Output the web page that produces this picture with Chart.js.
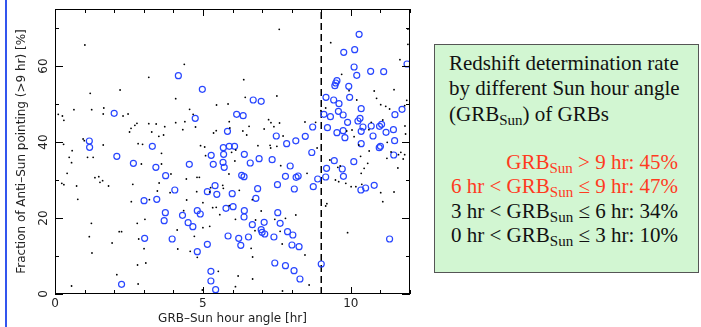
<!DOCTYPE html>
<html>
<head>
<meta charset="utf-8">
<script src="https://cdn.jsdelivr.net/npm/chart.js@4"></script>
<style>
  html, body { margin: 0; padding: 0; background: #fff; }
  #wrap { position: relative; width: 701px; height: 327px; overflow: hidden; }
  #chart { position: absolute; left: 0; top: 0; }
  .edge { position: absolute; left: 5px; top: 0; width: 2px; height: 327px; background: #3355ee; }
  .note {
    position: absolute; left: 434px; top: 44px; width: 263px; height: 227px;
    background: #d2f6d2; border: 1.5px solid #555;
    font-family: "Liberation Serif", "Times New Roman", serif; font-size: 21px; color: #111;
  }
  .note .l { position: absolute; white-space: nowrap; line-height: 1; }
  .note .r { right: 20px; text-align: right; }
  .note .red { color: #ff3b1f; }
  .note sub { font-size: 15px; vertical-align: -4px; line-height: 0; }
</style>
</head>
<body>
<div id="wrap">
  <canvas id="chart" width="701" height="327"></canvas>
  <div class="edge"></div>
  <div class="note">
    <div class="l" style="left:14px;top:8px;">Redshift determination rate</div>
    <div class="l" style="left:14px;top:33px;">by different Sun hour angle</div>
    <div class="l" style="left:14px;top:59px;">(GRB<sub>Sun</sub>) of GRBs</div>
    <div class="l r red" style="top:107px;">GRB<sub>Sun</sub> &gt; 9 hr: 45%</div>
    <div class="l r red" style="top:131px;">6 hr &lt; GRB<sub>Sun</sub> ≤ 9 hr: 47%</div>
    <div class="l r" style="top:156px;">3 hr &lt; GRB<sub>Sun</sub> ≤ 6 hr: 34%</div>
    <div class="l r" style="top:180px;">0 hr &lt; GRB<sub>Sun</sub> ≤ 3 hr: 10%</div>
  </div>
</div>
<script>
// axis ticks
const xTicks = [0, 5, 10];
const xMinor = [0, 1, 2, 3, 4, 5, 6, 7, 8, 9, 10, 11, 12];
const yTicks = [0, 20, 40, 60];
const yMinor = [0, 10, 20, 30, 40, 50, 60, 70];
const cutHour = 9;

// GRBs with redshift (blue circles): hour angle, fraction
const zX = [2.00, 1.16, 1.17, 3.29, 4.17, 4.98, 6.70, 6.97, 4.74, 6.14, 6.36, 5.83, 7.48, 7.83, 5.69, 5.89, 6.07, 8.14,
  10.28, 9.76, 10.13, 11.90, 10.11, 10.67, 11.11, 10.20, 9.53, 9.49, 9.46, 9.93, 9.16, 9.42, 9.60, 9.96, 10.35, 11.73,
  9.58, 9.09, 9.31, 9.74, 11.49, 9.89, 10.24, 10.31, 8.71, 9.21, 10.41, 10.69, 10.97, 11.04, 9.53, 9.74, 10.35, 11.19,
  11.44, 8.46, 9.80, 10.75, 11.48, 10.35, 11.00, 10.96, 8.68,
  2.09, 2.65, 3.41, 3.74, 4.05, 3.01, 3.44, 3.73, 3.69, 3.03, 3.96, 2.25,
  5.28, 5.70, 6.40, 4.54, 5.35, 5.68, 5.72, 6.60, 6.90, 7.34, 7.95, 6.31, 6.39, 7.79, 5.41, 5.15, 5.47, 5.99, 6.85,
  7.52, 8.09, 6.79, 5.78, 6.02, 6.40, 4.81, 4.91, 4.31, 6.39, 7.53, 4.50, 4.66, 6.67, 7.07, 7.61, 6.97, 7.00, 7.09,
  7.86, 8.04, 5.85, 6.21, 6.54, 7.40, 5.15, 6.28, 8.01, 4.81, 7.43, 7.79, 5.27, 8.08, 5.27, 5.43,
  9.44, 10.10, 11.45, 9.18, 9.71, 8.22, 8.15, 8.88, 9.15, 9.75, 10.79, 10.50, 10.34, 8.73, 11.31, 8.25, 9.00, 8.28];
const zY = [47.55, 40.26, 38.60, 38.87, 57.45, 53.87, 51.05, 50.71, 46.24, 47.29, 46.92, 42.82, 41.58, 39.55, 38.50, 38.87, 38.87, 40.30,
  68.34, 63.60, 64.29, 60.53, 59.74, 58.60, 58.50, 57.55, 56.13, 55.53, 54.82, 54.66, 51.76, 51.05, 50.08, 51.76, 48.76, 48.61,
  48.08, 47.29, 46.66, 47.11, 47.18, 45.18, 45.53, 46.24, 43.95, 43.76, 43.95, 44.21, 44.13, 44.66, 42.45, 42.97, 42.82, 42.55,
  43.24, 41.50, 41.13, 41.58, 40.34, 39.55, 38.87, 38.50, 37.24,
  36.24, 34.39, 33.34, 31.13, 27.37, 24.55, 24.92, 21.39, 19.29, 14.66, 14.47, 2.55,
  36.50, 36.76, 36.76, 34.13, 34.13, 34.66, 33.34, 34.47, 35.61, 35.34, 33.68, 31.24, 30.87, 30.97, 28.50, 26.92, 26.24, 26.39, 27.71,
  28.76, 27.63, 25.18, 22.55, 22.97, 21.92, 21.92, 21.05, 20.71, 20.26, 21.39, 18.76, 17.71, 18.24, 18.87, 18.61, 16.92, 16.24, 15.79,
  16.39, 15.53, 15.26, 14.66, 15.00, 15.00, 13.08, 12.82, 12.89, 11.13, 8.16, 7.45, 5.97, 6.13, 3.42, 1.13,
  35.08, 34.82, 36.58, 33.08, 32.89, 31.05, 30.71, 30.26, 30.79, 30.97, 28.61, 27.89, 27.37, 28.24, 14.47, 12.45, 7.89, 3.95];

// GRBs without redshift (black dots)
const nX = [1.01, 3.17, 2.20, 1.19, 0.64, 1.24, 1.65, 0.11, 0.25, 0.30, 1.63, 2.30, 2.47, 2.77, 2.70, 2.57, 2.52, 3.17, 3.42,
  3.71, 3.27, 3.67, 3.51, 0.95, 0.99, 0.29, 1.63, 2.81, 2.96, 0.58, 3.60,
  7.58, 4.37, 6.38, 4.08, 6.43, 7.50, 4.55, 4.67, 5.46, 5.85, 4.39, 4.08, 4.75, 4.32, 5.89, 5.45, 5.36, 5.91, 6.56, 6.35,
  6.48, 7.07, 7.22, 7.30, 7.59, 7.40, 7.71, 4.92, 5.06, 6.86, 7.27, 7.29, 7.50, 6.11, 5.97,
  9.32, 11.66, 11.93, 11.93, 9.69, 9.94, 10.79, 11.46, 10.20, 10.87, 11.01, 11.18, 11.31, 11.82, 11.89, 9.15, 8.99, 10.69,
  11.08, 10.04, 9.86, 10.11, 10.61, 11.83, 11.85, 8.45, 8.81, 8.86, 10.27, 11.23, 11.36, 11.69,
  0.48, 0.56, 1.10, 1.29, 2.92, 3.60, 3.92, 0.41, 0.23, 0.30, 0.73, 1.35, 1.48, 1.52, 1.61, 1.81, 2.63, 3.52, 3.46, 3.89,
  0.77, 2.58, 3.19, 1.23, 2.78, 3.04, 2.17, 2.25, 1.16, 2.83, 1.93, 3.01, 1.25, 2.79, 3.07, 2.09, 2.81, 0.56,
  5.09, 6.08, 4.44, 4.80, 4.88, 5.88, 5.67, 5.69, 5.26, 5.23, 6.23, 6.67, 4.45, 4.79, 5.00, 4.35, 5.33, 5.45, 5.57, 5.89,
  6.10, 6.78, 6.97, 7.63, 7.43, 7.79, 4.13, 5.00, 5.23, 4.71, 6.76, 7.61, 7.68, 4.15, 4.57, 4.81, 6.63, 6.68, 5.52, 6.19,
  6.68, 6.10, 7.69, 4.98,
  11.22, 11.61, 11.77, 11.82, 10.33, 10.62, 10.57, 11.59, 10.45, 10.35, 9.29, 9.56, 9.64, 9.48, 9.59, 9.83, 10.01, 10.17,
  10.37, 11.01, 11.46, 11.08, 9.19, 9.15, 8.52, 8.14, 9.89, 8.45, 8.59];
const nY = [65.53, 57.03, 53.68, 52.82, 48.50, 48.50, 48.95, 47.29, 46.84, 45.71, 47.37, 46.84, 47.37, 44.92, 44.39, 43.61, 42.63, 44.82, 44.74,
  44.03, 42.63, 41.84, 41.50, 40.79, 40.34, 39.39, 39.21, 39.55, 39.39, 37.71, 37.03,
  69.66, 60.45, 56.39, 51.39, 51.76, 52.11, 48.61, 47.29, 49.74, 50.00, 45.34, 45.08, 43.95, 43.24, 45.34, 42.97, 42.37, 43.68, 44.13, 42.89,
  41.84, 43.42, 45.87, 45.08, 45.00, 44.03, 41.58, 39.03, 38.68, 39.03, 39.13, 38.42, 38.87, 37.89, 37.29,
  66.13, 61.66, 69.74, 65.71, 57.82, 53.50, 53.42, 53.76, 51.05, 51.50, 49.82, 49.39, 48.68, 49.55, 50.97, 48.95, 48.24, 45.18,
  45.79, 43.16, 42.89, 41.39, 43.24, 44.21, 42.11, 45.26, 45.18, 38.42, 39.21, 39.92, 37.37, 37.29,
  35.97, 34.55, 35.97, 35.97, 34.21, 34.21, 31.58, 31.76, 29.13, 28.76, 28.42, 30.61, 30.87, 29.39, 29.82, 28.42, 28.87, 29.21, 27.11, 26.66,
  24.92, 24.29, 24.82, 18.61, 18.61, 19.66, 16.39, 16.39, 15.08, 14.47, 13.42, 11.92, 10.79, 7.63, 8.16, 5.08, 2.63, 2.11,
  36.39, 35.00, 30.26, 30.71, 30.71, 31.58, 28.61, 27.82, 27.97, 26.84, 27.29, 24.82, 24.74, 26.92, 24.03, 21.92, 22.71, 22.82, 20.87, 23.24,
  19.66, 19.47, 21.84, 33.76, 19.66, 19.92, 16.84, 17.45, 17.82, 15.18, 16.66, 16.50, 13.16, 11.84, 11.24, 9.66, 12.03, 9.74, 5.97, 4.74,
  3.95, 1.92, 0.79, 1.05,
  35.71, 36.66, 35.53, 36.66, 36.24, 37.63, 34.39, 33.16, 33.08, 31.76, 35.26, 33.34, 33.68, 30.00, 29.55, 29.13, 28.24, 28.24,
  28.87, 26.66, 26.84, 24.29, 23.76, 23.16, 31.76, 20.79, 16.13, 10.26, 2.37];

const pts = (xs, ys) => xs.map((v, i) => ({ x: v, y: ys[i] }));
const axisFont = '"DejaVu Sans", Verdana, sans-serif';

// IDL style box: frame plus inward ticks on all four sides, rotated y labels
const boxAxes = {
  id: 'boxAxes',
  afterDatasetsDraw(chart) {
    const { ctx, chartArea: a, scales: { x, y } } = chart;
    ctx.save();
    ctx.strokeStyle = '#000';
    ctx.lineWidth = 1;
    ctx.strokeRect(a.left + 0.5, a.top + 0.5, a.right - a.left - 1, a.bottom - a.top - 1);
    ctx.beginPath();
    xMinor.forEach(v => {
      const px = Math.round(x.getPixelForValue(v)) + 0.5;
      const len = xTicks.includes(v) ? 7 : 4;
      ctx.moveTo(px, a.bottom); ctx.lineTo(px, a.bottom - len);
      ctx.moveTo(px, a.top); ctx.lineTo(px, a.top + len);
    });
    yMinor.forEach(v => {
      const py = Math.round(y.getPixelForValue(v)) + 0.5;
      const len = yTicks.includes(v) ? 8 : 4;
      ctx.moveTo(a.left, py); ctx.lineTo(a.left + len, py);
      ctx.moveTo(a.right, py); ctx.lineTo(a.right - len, py);
    });
    ctx.stroke();

    ctx.fillStyle = '#222';
    ctx.font = '12px ' + axisFont;
    ctx.textAlign = 'center';
    ctx.textBaseline = 'middle';
    yTicks.forEach(v => {
      ctx.save();
      ctx.translate(a.left - 11, y.getPixelForValue(v));
      ctx.rotate(-Math.PI / 2);
      ctx.fillText(String(v), 0, 0);
      ctx.restore();
    });
    ctx.restore();
  }
};

new Chart(document.getElementById('chart'), {
  type: 'scatter',
  data: {
    datasets: [
      {
        data: pts(nX, nY),
        pointStyle: 'circle',
        pointRadius: 0.9,
        backgroundColor: '#000',
        borderWidth: 0
      },
      {
        data: pts(zX, zY),
        pointStyle: 'circle',
        pointRadius: 3,
        backgroundColor: 'rgba(0,0,0,0)',
        borderColor: 'rgb(40,70,255)',
        borderWidth: 1.2
      },
      {
        type: 'line',
        data: [{ x: cutHour, y: 0 }, { x: cutHour, y: 75 }],
        borderColor: '#000',
        borderWidth: 1.5,
        borderDash: [7, 4],
        pointRadius: 0
      }
    ]
  },
  options: {
    responsive: false,
    animation: false,
    events: [],
    layout: { padding: { left: 0, top: 9, right: 291, bottom: 0 } },
    plugins: { legend: { display: false }, tooltip: { enabled: false } },
    scales: {
      x: {
        type: 'linear',
        min: 0, max: 12,
        grid: { display: false, drawTicks: false },
        border: { display: false },
        afterBuildTicks: s => { s.ticks = xTicks.map(v => ({ value: v })); },
        afterFit: s => { s.height = 33; },
        ticks: { color: '#222', padding: 3, maxRotation: 0, font: { family: axisFont, size: 12 } },
        title: {
          display: true, text: 'GRB–Sun hour angle [hr]', color: '#222',
          font: { family: axisFont, size: 12 },
          padding: { top: 0, bottom: 1 }
        }
      },
      y: {
        type: 'linear',
        min: 0, max: 75,
        grid: { display: false, drawTicks: false },
        border: { display: false },
        afterBuildTicks: s => { s.ticks = yTicks.map(v => ({ value: v })); },
        afterFit: s => { s.width = 55; },
        ticks: { display: false },
        title: {
          display: true, text: 'Fraction of Anti–Sun pointing (>9 hr) [%]', color: '#222',
          font: { family: axisFont, size: 12 },
          padding: { top: 15, bottom: 0 }
        }
      }
    }
  },
  plugins: [boxAxes]
});
</script>
</body>
</html>
